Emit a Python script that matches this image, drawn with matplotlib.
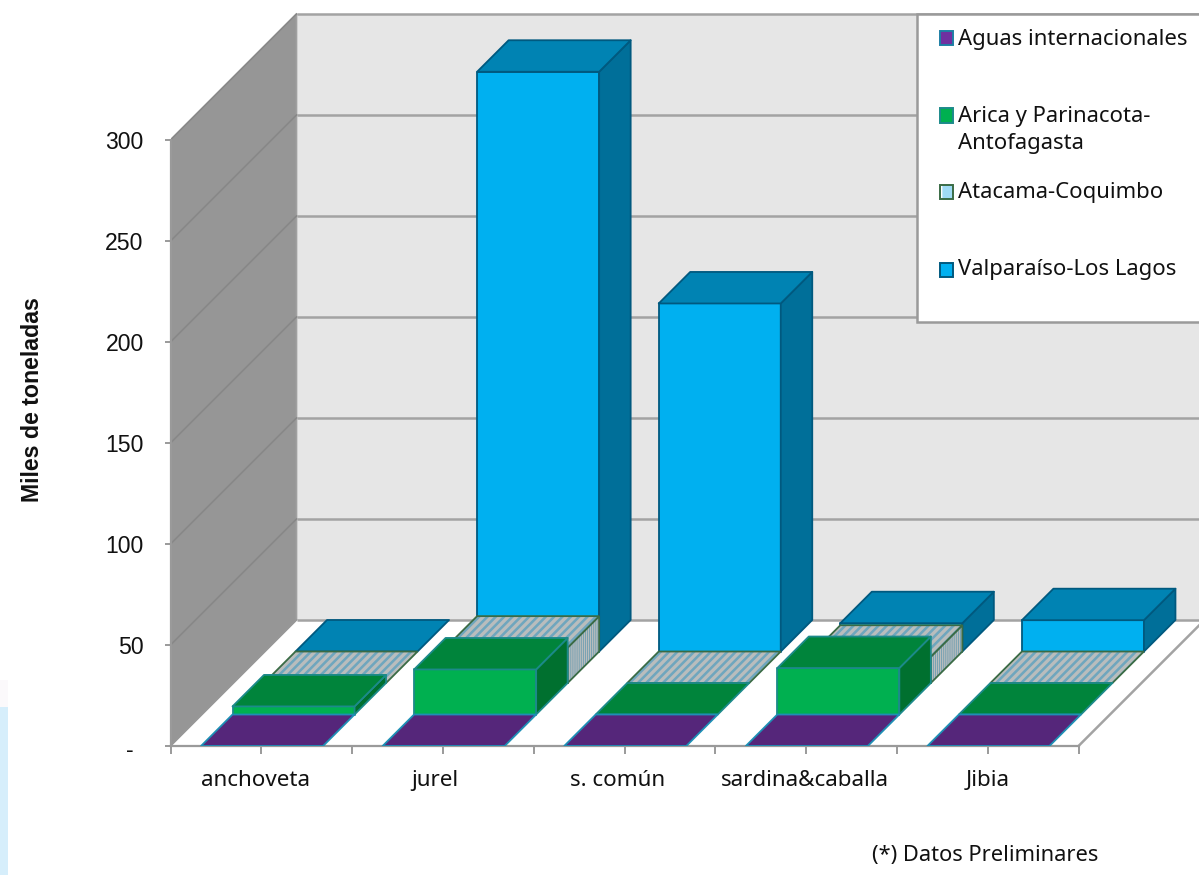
import numpy as np
import matplotlib
matplotlib.use("Agg")
import matplotlib.pyplot as plt
from matplotlib.patches import Polygon, Rectangle
from matplotlib.transforms import ScaledTranslation

categories = ["anchoveta", "jurel", "s. común", "sardina&caballa", "Jibia"]
series_names = ["Aguas internacionales", "Arica y Parinacota-\nAntofagasta",
                "Atacama-Coquimbo", "Valparaíso-Los Lagos"]
aguas = [0, 0, 0, 0, 0]
arica = [4, 22.3, 0, 23, 0]
atacama = [0, 17.5, 0, 13, 0]
valparaiso = [0, 287, 172.3, 14, 15.5]
y_ticks = [0, 50, 100, 150, 200, 250, 300]
y_labels = ["-", "50", "100", "150", "200", "250", "300"]

W, H = 1199, 875
PX_CAT = 181.6
PX_VAL = 2.02
DX = 31.5 / PX_CAT
DY = 31.5 / PX_VAL
L, B = 170.5, 746
BAR_OFF, BAR_W = 0.168, 0.672
ROWS = 4
VMAX = 300

TXT = "#111111"
FONT = "Noto Sans"

fig = plt.figure(figsize=(W / 100, H / 100), dpi=100, facecolor="white")
ax = fig.add_axes([L / W, (H - B) / H, (W - L) / W, B / H])
ax.set_xlim(0, (W - L) / PX_CAT)
ax.set_ylim(0, B / PX_VAL)
ax.patch.set_visible(False)


def proj(c, d, v):
    return (c + d * DX, v + d * DY)


def poly(pts, hatch_lw=None, **kw):
    p = Polygon(pts, closed=True, **kw)
    if hatch_lw is not None and hasattr(p, "set_hatch_linewidth"):
        p.set_hatch_linewidth(hatch_lw)
    ax.add_patch(p)
    return p


GRID = "#A3A3A3"
n = len(categories)
# walls and floor
poly([proj(0, ROWS, 0), proj(n, ROWS, 0), proj(n, ROWS, VMAX), proj(0, ROWS, VMAX)],
     fc="#E6E6E6", ec="none", zorder=1)
poly([proj(0, 0, 0), proj(0, ROWS, 0), proj(0, ROWS, VMAX), proj(0, 0, VMAX)],
     fc="#969696", ec="#A0A0A0", lw=1.2, zorder=1)
poly([proj(0, 0, 0), proj(n, 0, 0), proj(n, ROWS, 0), proj(0, ROWS, 0)],
     fc="white", ec="none", zorder=1.5)
for t in y_ticks:
    x0, y0 = proj(0, ROWS, t)
    x1, y1 = proj(n, ROWS, t)
    ax.plot([x0, x1], [y0, y1], color=GRID, lw=1.8, zorder=2, solid_capstyle="butt")
    xa, ya = proj(0, 0, t)
    ax.plot([xa, x0], [ya, y0], color="#888888" if t else "#969696", lw=1.2, zorder=2)
xr0, yr0 = proj(n, 0, 0)
xr1, yr1 = proj(n, ROWS, 0)
ax.plot([xr0, xr1], [yr0, yr1], color=GRID, lw=1.8, zorder=2)

styles = [
    dict(front="#55267A", top="#55267A", side="#43205F", edge="#1E8FB5", hatch=None),
    dict(front="#00B050", top="#00843B", side="#00702F", edge="#1C8A8A", hatch=None),
    dict(front="#6FA6BE", top="#6FA6BE", side="#5F97AF", edge="#3A6B45", hatch="#B9BDBD"),
    dict(front="#00B0F0", top="#0083B3", side="#006F99", edge="#00597F", hatch=None),
]
rows = [aguas, arica, atacama, valparaiso]

z = 3.0
for r in range(ROWS - 1, -1, -1):
    st = styles[r]
    for i, v in enumerate(rows[r]):
        x0 = i + BAR_OFF
        x1 = x0 + BAR_W
        front = [proj(x0, r, 0), proj(x1, r, 0), proj(x1, r, v), proj(x0, r, v)]
        side = [proj(x1, r, 0), proj(x1, r + 1, 0), proj(x1, r + 1, v), proj(x1, r, v)]
        top = [proj(x0, r, v), proj(x1, r, v), proj(x1, r + 1, v), proj(x0, r + 1, v)]
        faces = [(front, st["front"], "////", 2.4), (side, st["side"], "||||||||", 1.0),
                 (top, st["top"], "////", 2.4)]
        for pts, col, hatch, hlw in faces:
            if v == 0 and pts is not top:
                continue
            if st["hatch"]:
                poly(pts, fc=col, ec=st["hatch"], lw=0, hatch=hatch, hatch_lw=hlw, zorder=z)
                poly(pts, fc="none", ec=st["edge"], lw=1.3, zorder=z + 0.001)
            else:
                poly(pts, fc=col, ec=st["edge"], lw=1.3, joinstyle="round", zorder=z)
            z += 0.01

# axes furniture
for s in ("top", "right"):
    ax.spines[s].set_visible(False)
for s in ("left", "bottom"):
    ax.spines[s].set_color("#9A9A9A")
    ax.spines[s].set_linewidth(1.6)
    ax.spines[s].set_zorder(2.5)
ax.spines["left"].set_bounds(0, VMAX)
ax.spines["bottom"].set_bounds(0, n)
ax.set_yticks(y_ticks)
ax.set_yticklabels(y_labels, fontfamily="Liberation Sans", fontsize=16.6, color=TXT)
ax.tick_params(axis="y", length=4.3, width=1.4, color="#9A9A9A", pad=15)
ax.set_xticks(np.arange(0, n + 0.5, 0.5))
ax.set_xticklabels([categories[(k - 1) // 2] if k % 2 else "" for k in range(2 * n + 1)],
                   fontfamily=FONT, fontsize=16.1, color=TXT)
ax.tick_params(axis="x", length=5.5, width=1.4, color="#9A9A9A", pad=11.6)
# labels sit slightly left of their category centres in the reference
x_shift_px = [0, -6, 0, -8, 0, -7, 0, -1, 0, 0, 0]
for lab, dxp in zip(ax.get_xticklabels(), x_shift_px):
    lab.set_transform(lab.get_transform() + ScaledTranslation(dxp / 100, 0, fig.dpi_scale_trans))
# the "-" tick label ends further left than the digits
zero_lab = ax.get_yticklabels()[0]
zero_lab.set_transform(zero_lab.get_transform() + ScaledTranslation(-10 / 100, -2 / 100, fig.dpi_scale_trans))

ax.set_ylabel("Miles de toneladas", fontfamily="Liberation Sans", fontweight="bold",
              fontsize=16.7, color=TXT, va="center")
ax.yaxis.set_label_coords((33 - L) / (W - L), (B - 400) / B)


def fx(px):
    return px / W


def fy(py):
    return 1 - py / H


def frect(x0, y0, x1, y1, **kw):
    kw.setdefault("zorder", 5)
    r = Rectangle((fx(x0), fy(y1)), fx(x1) - fx(x0), fy(y0) - fy(y1),
                  transform=fig.transFigure, **kw)
    fig.add_artist(r)
    return r


# legend
frect(917, 14, 1210, 322, fc="white", ec="#9A9A9A", lw=1.8, clip_on=False)
leg_mark_y = [38, 115.5, 191.5, 269.5]
leg_text_y = [39, 130, 192.5, 270]
leg_fc = ["#7030A0", "#00B050", "#9FDBF5", "#00B0F0"]
leg_ec = ["#1E7FA5", "#1C8A8A", "#3A6B45", "#00597F"]
for ym, yt, name, fc, ec in zip(leg_mark_y, leg_text_y, series_names, leg_fc, leg_ec):
    m = frect(939.5, ym - 7, 952.5, ym + 7, fc=fc, ec=ec, lw=1.4, zorder=6)
    if name.startswith("Atacama"):
        m.set_hatch("|")
        m.set_edgecolor("white")
        m.set_linewidth(0)
        frect(939.5, ym - 7, 952.5, ym + 7, fc="none", ec=ec, lw=1.4, zorder=6.1)
    fig.text(fx(958), fy(yt), name, ha="left", va="center", fontfamily=FONT,
             fontsize=15.9, color=TXT, zorder=6, linespacing=1.42)
fig.text(fx(872), fy(855), "(*) Datos Preliminares", ha="left", va="center",
         fontfamily=FONT, fontsize=15.7, color=TXT)

# pale strip at lower left of the slide background
frect(0, 707, 8, 875, fc="#D6EEFB", ec="none", zorder=0)
frect(0, 680, 8, 707, fc="#FBF9FB", ec="none", zorder=0)

fig.savefig("out.png", dpi=100)
